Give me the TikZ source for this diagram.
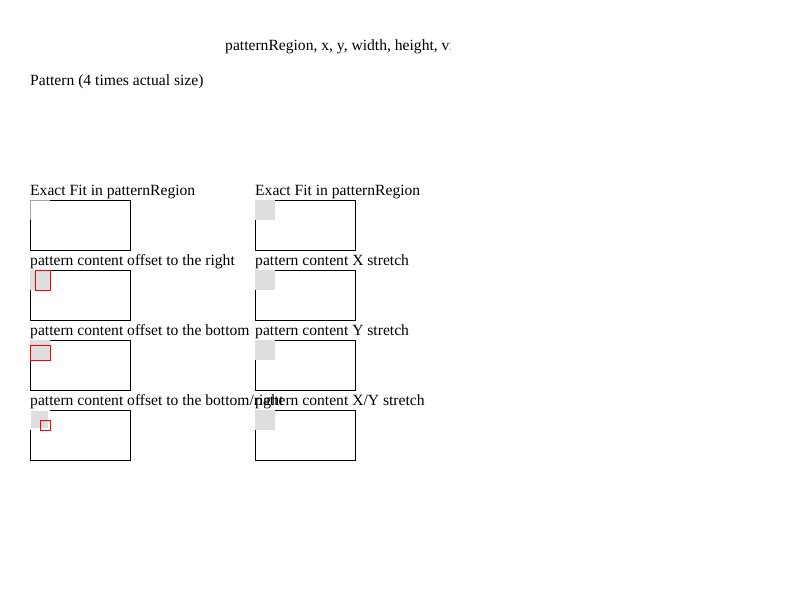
\documentclass[tikz,border=0pt]{standalone}
\usepackage{fontspec}
\setmainfont{Liberation Serif}
\begin{document}
\begin{tikzpicture}[x=1pt,y=-1pt,
  lbl/.style={anchor=base west,inner sep=0pt,font=\fontsize{15.6}{19}\selectfont},
  region/.style={draw=black,line width=1pt,fill=white},
  tile/.style={fill=black!13,draw=none},
  content/.style={draw=red,line width=1pt}]
\useasboundingbox (0,0) rectangle (800,600);

% clipped title line
\begin{scope}
  \clip (225,20) rectangle (450,70);
  \node[lbl] (title) at (225,50) {patternRegion, x, y, width, height, viewBox};
\end{scope}
\node[lbl] (caption) at (30,85) {Pattern (4 times actual size)};

% left column
\node[lbl] (l1) at (30,195) {Exact Fit in patternRegion};
\draw[region] (30,200) rectangle (130,250);
\fill[white] (30,200) rectangle (50,220);
\draw[black!35,line width=1pt] (30,220) -- (30,200) -- (50,200);

\node[lbl] (l2) at (30,265) {pattern content offset to the right};
\draw[region] (30,270) rectangle (130,320);
\fill[tile] (30,270) rectangle (50,290);
\draw[content] (35,270) rectangle (50,290);

\node[lbl] (l3) at (30,335) {pattern content offset to the bottom};
\draw[region] (30,340) rectangle (130,390);
\fill[tile] (30,340) rectangle (50,360);
\draw[content] (30,345) rectangle (50,360);

\node[lbl] (l4) at (30,405) {pattern content offset to the bottom/right};
\draw[region] (30,410) rectangle (130,460);
\fill[white] (30,410) rectangle (50,430);
\fill[tile] (31,411) rectangle (48,428);
\draw[content] (40,420) rectangle (50,430);

% right column
\node[lbl] (r1) at (255,195) {Exact Fit in patternRegion};
\draw[region] (255,200) rectangle (355,250);
\fill[tile] (255,200) rectangle (275,220);

\node[lbl] (r2) at (255,265) {pattern content X stretch};
\draw[region] (255,270) rectangle (355,320);
\fill[tile] (255,270) rectangle (275,290);

\node[lbl] (r3) at (255,335) {pattern content Y stretch};
\draw[region] (255,340) rectangle (355,390);
\fill[tile] (255,340) rectangle (275,360);

\node[lbl] (r4) at (255,405) {pattern content X/Y stretch};
\draw[region] (255,410) rectangle (355,460);
\fill[tile] (255,410) rectangle (275,430);
\end{tikzpicture}
\end{document}
